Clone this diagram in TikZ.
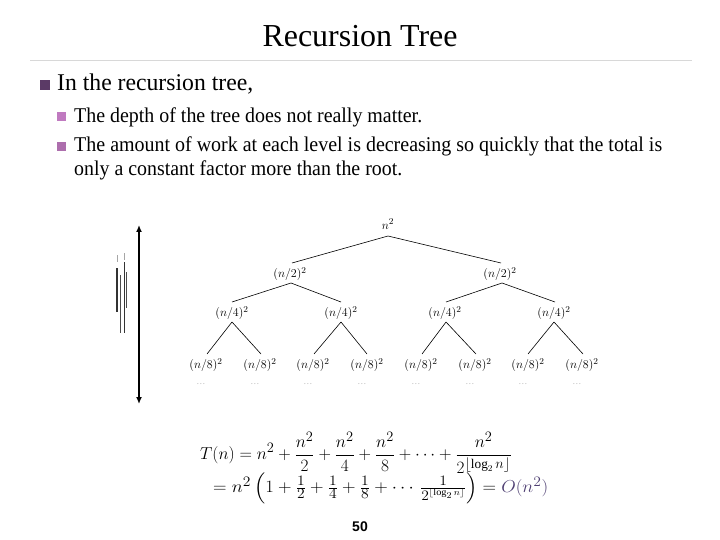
\documentclass[tikz,border=0pt]{standalone}
\usepackage{amsmath}
\usepackage{graphicx}
\usepackage{fontspec}
\setmainfont{Liberation Serif}
\newfontfamily\pagefont{Liberation Sans}
\usetikzlibrary{arrows.meta}
\definecolor{mainbul}{HTML}{5B3A66}
\definecolor{subbul}{HTML}{C07AC0}
\definecolor{bigo}{HTML}{4E3F72}
\definecolor{rulegray}{HTML}{D8D8D8}
\newcommand{\fitw}[2]{\resizebox{#1}{\height}{#2}}
\tikzset{
  tl/.style={inner sep=1pt, font=\fontsize{13}{15}\selectfont},
  edge/.style={line width=0.6pt},
  dotsl/.style={inner sep=0pt, font=\fontsize{7}{8}\selectfont, text=gray},
  txt/.style={anchor=base west, inner sep=0pt},
}
\begin{document}
\begin{tikzpicture}[x=1pt,y=-1pt]
\useasboundingbox (0,0) rectangle (720,540);
% title
\node[anchor=base, inner sep=0pt] (title) at (360,47) {\fitw{195pt}{\fontsize{32}{36}\selectfont Recursion Tree}};
\draw[rulegray, line width=0.8pt] (30,60) -- (692,60);
% bullets
\fill[mainbul] (40,80) rectangle (50,90);
\node[txt] (b1) at (57,91) {\fitw{196pt}{\fontsize{24}{28}\selectfont In the recursion tree,}};
\fill[subbul] (57,112) rectangle (66,121);
\node[txt] (b2) at (74,123) {\fitw{348pt}{\fontsize{21}{24}\selectfont The depth of the tree does not really matter.}};
\fill[subbul!90!black] (57,142) rectangle (66,151);
\node[txt] (b3) at (74,152) {\fitw{588pt}{\fontsize{21}{24}\selectfont The amount of work at each level is decreasing so quickly that the total is}};
\node[txt] (b4) at (74,176) {\fitw{328pt}{\fontsize{21}{24}\selectfont only a constant factor more than the root.}};
% depth arrow
\coordinate (atop) at (139,225);
\coordinate (abot) at (139,404);
\draw[line width=1.8pt, {Latex[length=7pt,width=6pt]}-{Latex[length=7pt,width=6pt]}] (atop) -- (abot);
% garbled side label marks
\draw[gray!70, line width=0.7pt] (117,255) -- (117,262);
\draw[gray!70, line width=0.7pt] (124,253) -- (124,260);
\draw[black!80, line width=1.2pt] (117,268) -- (117,312);
\draw[black!70, line width=0.8pt] (120.5,275) -- (120.5,333);
\draw[black!80, line width=0.8pt] (124,262) -- (124,333);
\draw[black!70, line width=0.8pt] (126.5,272) -- (126.5,308);
% tree
\node[tl] (r) at (388,224) {$n^2$};
\node[tl] (a1) at (290,274) {$(n/2)^2$};
\node[tl] (a2) at (500,274) {$(n/2)^2$};
\node[tl] (c1) at (232,313) {$(n/4)^2$};
\node[tl] (c2) at (341,313) {$(n/4)^2$};
\node[tl] (c3) at (445,313) {$(n/4)^2$};
\node[tl] (c4) at (554,313) {$(n/4)^2$};
\foreach \i/\x in {1/206,2/260,3/313,4/367,5/421,6/475,7/528,8/582}{
  \node[tl] (d\i) at (\x,365) {$(n/8)^2$};
  \node[dotsl] (e\i) at (\x-5,384) {.\,.\,.};
}
\draw[edge] (388,236) -- (292,263);
\draw[edge] (388,236) -- (501,263);
\draw[edge] (291,283) -- (232,302);
\draw[edge] (291,283) -- (341,302);
\draw[edge] (502,283) -- (446,302);
\draw[edge] (502,283) -- (555,302);
\draw[edge] (232,322) -- (207,354);
\draw[edge] (232,322) -- (261,354);
\draw[edge] (341,322) -- (314,354);
\draw[edge] (341,322) -- (367,354);
\draw[edge] (446,322) -- (422,354);
\draw[edge] (446,322) -- (476,354);
\draw[edge] (554,322) -- (528,354);
\draw[edge] (554,322) -- (583,354);
% equation
\node[anchor=west, inner sep=0pt] (eq1) at (200,453) {\fontsize{19}{22}\selectfont $\displaystyle T(n) = n^2 + \frac{n^2}{2} + \frac{n^2}{4} + \frac{n^2}{8} + \cdots + \frac{n^2}{2^{\lfloor \log_2 n\rfloor}}$};
\node[anchor=west, inner sep=0pt] (eq2) at (213,488) {\fitw{335pt}{\fontsize{19}{22}\selectfont $= n^2\,\Big(1 + \tfrac{1}{2} + \tfrac{1}{4} + \tfrac{1}{8} + \cdots\, \tfrac{1}{2^{\lfloor \log_2 n\rfloor}}\Big) = \textcolor{bigo}{O(n^2)}$}};
% page number
\node[inner sep=0pt] (pg) at (360,527) {\pagefont\bfseries\fontsize{14}{16}\selectfont 50};
\end{tikzpicture}
\end{document}
